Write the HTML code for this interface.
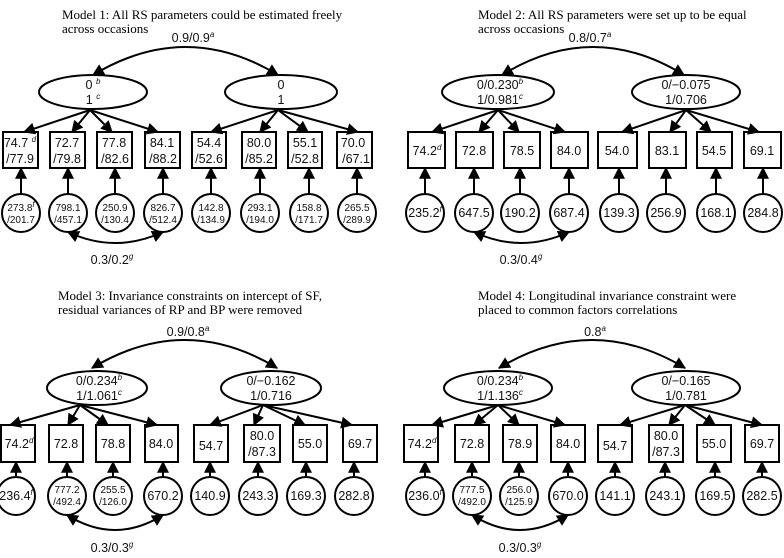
<!DOCTYPE html>
<html><head><meta charset="utf-8"><style>
html,body{margin:0;padding:0;background:#fff;}
svg{display:block;}
.t{font-family:"Liberation Serif",serif;font-size:13px;fill:#000;}
.n{font-family:"Liberation Sans",sans-serif;font-size:12.5px;fill:#111;text-anchor:middle;}
.s{font-family:"Liberation Sans",sans-serif;font-size:10px;fill:#111;text-anchor:middle;}
.sup{font-size:8px;font-style:italic;}
</style></head><body>
<svg width="784" height="558" viewBox="0 0 784 558" xmlns="http://www.w3.org/2000/svg">
<defs><marker id="a" viewBox="0 0 10 10" refX="9" refY="5" markerWidth="6" markerHeight="6" orient="auto-start-reverse"><path d="M0,0 L10,5 L0,10 z" fill="#000"/></marker></defs>
<g stroke="#000" stroke-width="2" fill="none">
<!-- Panel 1 -->
<path d="M93,75 Q186,19 278,75" marker-start="url(#a)" marker-end="url(#a)"/>
<ellipse cx="93" cy="92" rx="54" ry="17"/><ellipse cx="281" cy="92" rx="56" ry="17"/>
<path d="M90,110 L24,132" marker-end="url(#a)"/><path d="M90,110 L72,132" marker-end="url(#a)"/><path d="M90,110 L112,132" marker-end="url(#a)"/><path d="M90,110 L158,132" marker-end="url(#a)"/>
<path d="M278,110 L211,132" marker-end="url(#a)"/><path d="M278,110 L260,132" marker-end="url(#a)"/><path d="M278,110 L308,132" marker-end="url(#a)"/><path d="M278,110 L358,132" marker-end="url(#a)"/>
<rect x="3" y="132" width="35" height="36"/><rect x="50" y="132" width="35" height="36"/><rect x="97" y="132" width="35" height="36"/><rect x="145" y="132" width="35" height="36"/>
<rect x="192" y="132" width="34" height="36"/><rect x="242" y="132" width="34" height="36"/><rect x="288" y="132" width="34" height="36"/><rect x="337" y="132" width="35" height="36"/>
<circle cx="21" cy="213" r="19"/><circle cx="68" cy="213" r="19"/><circle cx="115" cy="213" r="19"/><circle cx="163" cy="213" r="19"/><circle cx="211" cy="213" r="19"/><circle cx="260" cy="213" r="19"/><circle cx="309" cy="213" r="19"/><circle cx="357" cy="213" r="19"/>
<path d="M21,194V168" marker-end="url(#a)"/><path d="M68,194V168" marker-end="url(#a)"/><path d="M115,194V168" marker-end="url(#a)"/><path d="M163,194V168" marker-end="url(#a)"/><path d="M211,194V168" marker-end="url(#a)"/><path d="M260,194V168" marker-end="url(#a)"/><path d="M309,194V168" marker-end="url(#a)"/><path d="M357,194V168" marker-end="url(#a)"/>
<path d="M68,232 Q115,254 163,232" marker-start="url(#a)" marker-end="url(#a)"/>
<!-- Panel 2 -->
<path d="M502,75 Q593,19 684,75" marker-start="url(#a)" marker-end="url(#a)"/>
<ellipse cx="498" cy="92" rx="56" ry="17"/><ellipse cx="686" cy="92" rx="54" ry="17"/>
<path d="M498,110 L432,132" marker-end="url(#a)"/><path d="M498,110 L479,132" marker-end="url(#a)"/><path d="M498,110 L519,132" marker-end="url(#a)"/><path d="M498,110 L565,132" marker-end="url(#a)"/>
<path d="M686,110 L622,132" marker-end="url(#a)"/><path d="M686,110 L670,132" marker-end="url(#a)"/><path d="M686,110 L711,132" marker-end="url(#a)"/><path d="M686,110 L759,132" marker-end="url(#a)"/>
<rect x="408" y="132" width="37" height="36"/><rect x="456" y="132" width="37" height="36"/><rect x="504" y="132" width="36" height="36"/><rect x="551" y="132" width="37" height="36"/>
<rect x="598" y="132" width="39" height="36"/><rect x="649" y="132" width="37" height="36"/><rect x="697" y="132" width="35" height="36"/><rect x="744" y="132" width="37" height="36"/>
<circle cx="425" cy="213" r="19"/><circle cx="474" cy="213" r="19"/><circle cx="520" cy="213" r="19"/><circle cx="569" cy="213" r="19"/><circle cx="619" cy="213" r="19"/><circle cx="666" cy="213" r="19"/><circle cx="716" cy="213" r="19"/><circle cx="763" cy="213" r="19"/>
<path d="M425,194V168" marker-end="url(#a)"/><path d="M474,194V168" marker-end="url(#a)"/><path d="M520,194V168" marker-end="url(#a)"/><path d="M569,194V168" marker-end="url(#a)"/><path d="M619,194V168" marker-end="url(#a)"/><path d="M666,194V168" marker-end="url(#a)"/><path d="M716,194V168" marker-end="url(#a)"/><path d="M763,194V168" marker-end="url(#a)"/>
<path d="M474,232 Q521,254 569,232" marker-start="url(#a)" marker-end="url(#a)"/>
<!-- Panel 3 -->
<path d="M92,368 Q185,312 277,368" marker-start="url(#a)" marker-end="url(#a)"/>
<ellipse cx="97" cy="388" rx="50" ry="17"/><ellipse cx="271" cy="388" rx="50" ry="17"/>
<path d="M80,405 L10,425" marker-end="url(#a)"/><path d="M80,405 L68,425" marker-end="url(#a)"/><path d="M80,405 L108,425" marker-end="url(#a)"/><path d="M80,405 L157,425" marker-end="url(#a)"/>
<path d="M263,405 L210,425" marker-end="url(#a)"/><path d="M263,405 L254,425" marker-end="url(#a)"/><path d="M263,405 L305,425" marker-end="url(#a)"/><path d="M263,405 L352,425" marker-end="url(#a)"/>
<rect x="1" y="425" width="34" height="37"/><rect x="49" y="425" width="34" height="37"/><rect x="96" y="425" width="34" height="37"/><rect x="145" y="425" width="33" height="37"/>
<rect x="194" y="425" width="34" height="37"/><rect x="244" y="425" width="36" height="37"/><rect x="293" y="425" width="34" height="37"/><rect x="343" y="425" width="34" height="37"/>
<circle cx="16" cy="496" r="19"/><circle cx="67" cy="496" r="19"/><circle cx="113" cy="496" r="19"/><circle cx="163" cy="496" r="19"/><circle cx="210" cy="496" r="19"/><circle cx="258" cy="496" r="19"/><circle cx="306" cy="496" r="19"/><circle cx="354" cy="496" r="19"/>
<path d="M16,477V462" marker-end="url(#a)"/><path d="M67,477V462" marker-end="url(#a)"/><path d="M113,477V462" marker-end="url(#a)"/><path d="M163,477V462" marker-end="url(#a)"/><path d="M210,477V462" marker-end="url(#a)"/><path d="M258,477V462" marker-end="url(#a)"/><path d="M306,477V462" marker-end="url(#a)"/><path d="M354,477V462" marker-end="url(#a)"/>
<path d="M67,515 Q115,545 163,515" marker-start="url(#a)" marker-end="url(#a)"/>
<!-- Panel 4 -->
<path d="M499,368 Q592,312 685,368" marker-start="url(#a)" marker-end="url(#a)"/>
<ellipse cx="498" cy="388" rx="54" ry="17"/><ellipse cx="686" cy="388" rx="54" ry="17"/>
<path d="M498,405 L432,425" marker-end="url(#a)"/><path d="M498,405 L474,425" marker-end="url(#a)"/><path d="M498,405 L519,425" marker-end="url(#a)"/><path d="M498,405 L565,425" marker-end="url(#a)"/>
<path d="M685,405 L620,425" marker-end="url(#a)"/><path d="M685,405 L669,425" marker-end="url(#a)"/><path d="M685,405 L715,425" marker-end="url(#a)"/><path d="M685,405 L762,425" marker-end="url(#a)"/>
<rect x="404" y="425" width="34" height="37"/><rect x="455" y="425" width="34" height="37"/><rect x="503" y="425" width="34" height="37"/><rect x="551" y="425" width="34" height="37"/>
<rect x="598" y="425" width="34" height="37"/><rect x="649" y="425" width="34" height="37"/><rect x="697" y="425" width="34" height="37"/><rect x="745" y="425" width="34" height="37"/>
<circle cx="425" cy="496" r="19"/><circle cx="472" cy="496" r="19"/><circle cx="519" cy="496" r="19"/><circle cx="568" cy="496" r="19"/><circle cx="615" cy="496" r="19"/><circle cx="665" cy="496" r="19"/><circle cx="715" cy="496" r="19"/><circle cx="762" cy="496" r="19"/>
<path d="M425,477V462" marker-end="url(#a)"/><path d="M472,477V462" marker-end="url(#a)"/><path d="M519,477V462" marker-end="url(#a)"/><path d="M568,477V462" marker-end="url(#a)"/><path d="M615,477V462" marker-end="url(#a)"/><path d="M665,477V462" marker-end="url(#a)"/><path d="M715,477V462" marker-end="url(#a)"/><path d="M762,477V462" marker-end="url(#a)"/>
<path d="M472,515 Q520,545 568,515" marker-start="url(#a)" marker-end="url(#a)"/>
</g>
<!-- Titles -->
<text class="t" x="62" y="19">Model 1: All RS parameters could be estimated freely</text>
<text class="t" x="62" y="33">across occasions</text>
<text class="t" x="478" y="19">Model 2: All RS parameters were set up to be equal</text>
<text class="t" x="478" y="33">across occasions</text>
<text class="t" x="58" y="300">Model 3: Invariance constraints on intercept of SF,</text>
<text class="t" x="58" y="314">residual variances of RP and BP were removed</text>
<text class="t" x="478" y="300">Model 4: Longitudinal invariance constraint were</text>
<text class="t" x="478" y="314">placed to common factors correlations</text>
<!-- Panel 1 text -->
<text class="n" x="193" y="42">0.9/0.9<tspan class="sup" dy="-5">a</tspan></text>
<text class="n" x="93" y="89">0 <tspan class="sup" dy="-5">b</tspan></text>
<text class="n" x="93" y="104">1 <tspan class="sup" dy="-5">c</tspan></text>
<text class="n" x="281" y="89">0</text><text class="n" x="281" y="104">1</text>
<text class="n" x="20" y="147">74.7 <tspan class="sup" dy="-5">d</tspan></text><text class="n" x="20" y="163">/77.9</text>
<text class="n" x="67" y="147">72.7</text><text class="n" x="67" y="163">/79.8</text>
<text class="n" x="114" y="147">77.8</text><text class="n" x="115" y="163">/82.6</text>
<text class="n" x="162" y="147">84.1</text><text class="n" x="163" y="163">/88.2</text>
<text class="n" x="209" y="147">54.4</text><text class="n" x="209" y="163">/52.6</text>
<text class="n" x="259" y="147">80.0</text><text class="n" x="259" y="163">/85.2</text>
<text class="n" x="305" y="147">55.1</text><text class="n" x="305" y="163">/52.8</text>
<text class="n" x="353" y="147">70.0</text><text class="n" x="356" y="163">/67.1</text>
<text class="s" x="21" y="211">273.8<tspan class="sup" dy="-4">f</tspan></text><text class="s" x="21" y="223">/201.7</text>
<text class="s" x="68" y="211">798.1</text><text class="s" x="68" y="223">/457.1</text>
<text class="s" x="115" y="211">250.9</text><text class="s" x="115" y="223">/130.4</text>
<text class="s" x="163" y="211">826.7</text><text class="s" x="163" y="223">/512.4</text>
<text class="s" x="211" y="211">142.8</text><text class="s" x="211" y="223">/134.9</text>
<text class="s" x="260" y="211">293.1</text><text class="s" x="260" y="223">/194.0</text>
<text class="s" x="309" y="211">158.8</text><text class="s" x="309" y="223">/171.7</text>
<text class="s" x="357" y="211">265.5</text><text class="s" x="357" y="223">/289.9</text>
<text class="n" x="112" y="264">0.3/0.2<tspan class="sup" dy="-5">g</tspan></text>
<!-- Panel 2 text -->
<text class="n" x="590" y="42">0.8/0.7<tspan class="sup" dy="-5">a</tspan></text>
<text class="n" x="500" y="89">0/0.230<tspan class="sup" dy="-5">b</tspan></text>
<text class="n" x="500" y="104">1/0.981<tspan class="sup" dy="-5">c</tspan></text>
<text class="n" x="686" y="89">0/−0.075</text><text class="n" x="686" y="104">1/0.706</text>
<text class="n" x="427" y="155">74.2<tspan class="sup" dy="-5">d</tspan></text>
<text class="n" x="474" y="155">72.8</text><text class="n" x="522" y="155">78.5</text><text class="n" x="569" y="155">84.0</text>
<text class="n" x="617" y="155">54.0</text><text class="n" x="667" y="155">83.1</text><text class="n" x="714" y="155">54.5</text><text class="n" x="762" y="155">69.1</text>
<text class="n" x="425" y="217">235.2<tspan class="sup" dy="-5">f</tspan></text>
<text class="n" x="474" y="217">647.5</text><text class="n" x="520" y="217">190.2</text><text class="n" x="569" y="217">687.4</text>
<text class="n" x="619" y="217">139.3</text><text class="n" x="666" y="217">256.9</text><text class="n" x="716" y="217">168.1</text><text class="n" x="763" y="217">284.8</text>
<text class="n" x="521" y="264">0.3/0.4<tspan class="sup" dy="-5">g</tspan></text>
<!-- Panel 3 text -->
<text class="n" x="188" y="336">0.9/0.8<tspan class="sup" dy="-5">a</tspan></text>
<text class="n" x="99" y="385">0/0.234<tspan class="sup" dy="-5">b</tspan></text>
<text class="n" x="99" y="400">1/1.061<tspan class="sup" dy="-5">c</tspan></text>
<text class="n" x="271" y="385">0/−0.162</text><text class="n" x="271" y="400">1/0.716</text>
<text class="n" x="19" y="448">74.2<tspan class="sup" dy="-5">d</tspan></text>
<text class="n" x="66" y="448">72.8</text><text class="n" x="113" y="448">78.8</text><text class="n" x="161" y="448">84.0</text>
<text class="n" x="211" y="450">54.7</text>
<text class="n" x="262" y="440">80.0</text><text class="n" x="262" y="456">/87.3</text>
<text class="n" x="310" y="448">55.0</text><text class="n" x="360" y="448">69.7</text>
<text class="n" x="16" y="500">236.4<tspan class="sup" dy="-5">f</tspan></text>
<text class="s" x="67" y="493">777.2</text><text class="s" x="67" y="505">/492.4</text>
<text class="s" x="113" y="493">255.5</text><text class="s" x="113" y="505">/126.0</text>
<text class="n" x="163" y="500">670.2</text><text class="n" x="210" y="500">140.9</text><text class="n" x="258" y="500">243.3</text><text class="n" x="306" y="500">169.3</text><text class="n" x="354" y="500">282.8</text>
<text class="n" x="112" y="552">0.3/0.3<tspan class="sup" dy="-5">g</tspan></text>
<!-- Panel 4 text -->
<text class="n" x="595" y="336">0.8<tspan class="sup" dy="-5">a</tspan></text>
<text class="n" x="500" y="385">0/0.234<tspan class="sup" dy="-5">b</tspan></text>
<text class="n" x="500" y="400">1/1.136<tspan class="sup" dy="-5">c</tspan></text>
<text class="n" x="686" y="385">0/−0.165</text><text class="n" x="686" y="400">1/0.781</text>
<text class="n" x="422" y="448">74.2<tspan class="sup" dy="-5">d</tspan></text>
<text class="n" x="472" y="448">72.8</text><text class="n" x="520" y="448">78.9</text><text class="n" x="568" y="448">84.0</text>
<text class="n" x="615" y="450">54.7</text>
<text class="n" x="666" y="440">80.0</text><text class="n" x="666" y="456">/87.3</text>
<text class="n" x="714" y="448">55.0</text><text class="n" x="762" y="448">69.7</text>
<text class="n" x="425" y="500">236.0<tspan class="sup" dy="-5">f</tspan></text>
<text class="s" x="472" y="493">777.5</text><text class="s" x="472" y="505">/492.0</text>
<text class="s" x="519" y="493">256.0</text><text class="s" x="519" y="505">/125.9</text>
<text class="n" x="568" y="500">670.0</text><text class="n" x="615" y="500">141.1</text><text class="n" x="665" y="500">243.1</text><text class="n" x="715" y="500">169.5</text><text class="n" x="762" y="500">282.5</text>
<text class="n" x="520" y="552">0.3/0.3<tspan class="sup" dy="-5">g</tspan></text>
</svg>
</body></html>
